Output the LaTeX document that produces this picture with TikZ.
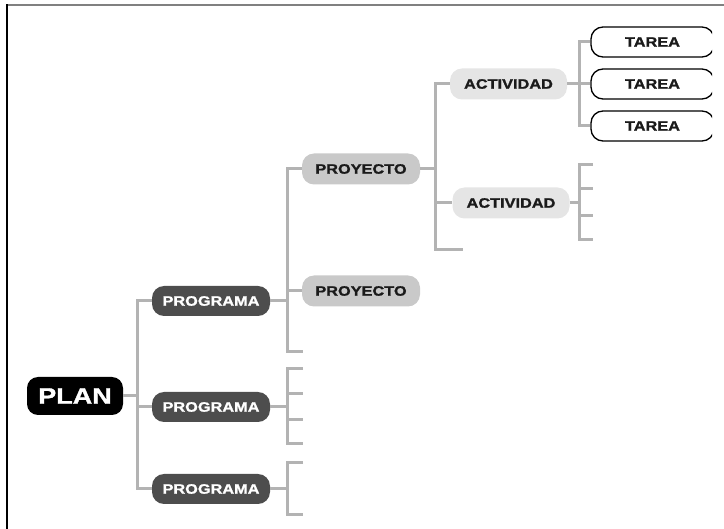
\documentclass[tikz,border=0pt]{standalone}
\usepackage{fontspec}
\newfontfamily\boxfont[FakeStretch=1.2,FakeBold=1.2]{Liberation Sans}
\definecolor{conncol}{HTML}{B3B3B3}
\definecolor{progcol}{HTML}{4D4D4D}
\definecolor{proycol}{HTML}{C9C9C9}
\definecolor{actcol}{HTML}{E5E5E5}
\definecolor{framegray}{HTML}{808080}
\definecolor{textdark}{HTML}{1A1A1A}
\tikzset{
  base/.style={inner sep=0pt, rounded corners=12pt, font=\boxfont\bfseries\fontsize{13.6}{13.6}\selectfont, minimum height=30pt},
  planbox/.style={base, fill=black, text=white, rounded corners=11pt, minimum width=96pt, minimum height=38pt, font=\boxfont\bfseries\fontsize{22.5}{22.5}\selectfont},
  progbox/.style={base, fill=progcol, text=white, minimum width=118pt},
  proybox/.style={base, fill=proycol, text=textdark, minimum width=118pt, minimum height=31pt},
  actbox/.style={base, fill=actcol, text=textdark, minimum width=117pt, minimum height=31pt},
  tareabox/.style={base, fill=white, draw=black, line width=1.3pt, text=textdark, minimum width=123pt},
  conn/.style={draw=conncol, line width=3pt},
}
\begin{document}
\begin{tikzpicture}[x=1pt,y=-1pt]
\useasboundingbox (0,0) rectangle (724,529);
% frame
\draw[framegray, line width=2pt] (7,5.5) -- (724,5.5);
\draw[black, line width=1.5pt] (7,4.5) -- (7,529);

% nodes
\node[planbox] (plan) at (75,396) {PLAN};
\node[progbox] (prog1) at (211,301) {PROGRAMA};
\node[progbox] (prog2) at (211,407) {PROGRAMA};
\node[progbox] (prog3) at (211,489) {PROGRAMA};
\node[proybox] (proy1) at (361,169) {PROYECTO};
\node[proybox] (proy2) at (361,291) {PROYECTO};
\node[actbox] (act1) at (508.5,84) {ACTIVIDAD};
\node[actbox] (act2) at (511,203) {ACTIVIDAD};
\begin{scope}
\clip (0,0) rectangle (712,529);
\node[tareabox] (t1) at (652.5,42) {TAREA};
\node[tareabox] (t2) at (652.5,84) {TAREA};
\node[tareabox] (t3) at (652.5,126) {TAREA};
\end{scope}

% junction coordinates
\coordinate (j0) at (137,396);
\coordinate (j1) at (287,301);
\coordinate (e1) at (303,352);
\coordinate (j2) at (287,407);
\coordinate (s21) at (303,369);
\coordinate (s22) at (303,394);
\coordinate (s23) at (303,420);
\coordinate (s24) at (303,444);
\coordinate (j3) at (287,489);
\coordinate (s31) at (303,463);
\coordinate (s32) at (303,515);
\coordinate (j4) at (435,169);
\coordinate (e4) at (463,250);
\coordinate (j5) at (579,84);
\coordinate (j6) at (579,203);
\coordinate (s61) at (593,165);
\coordinate (s62) at (593,189);
\coordinate (s63) at (593,216);
\coordinate (s64) at (593,240);

% connectors
\draw[conn] (plan.east) -- (j0);
\draw[conn] (prog1.west) -| (j0) |- (prog3.west);
\draw[conn] (j0 |- prog2.west) -- (prog2.west);

\draw[conn] (prog1.east) -- (j1);
\draw[conn] (proy1.west) -| (j1) |- (e1);
\draw[conn] (j1 |- proy2.west) -- (proy2.west);

\draw[conn] (prog2.east) -- (j2);
\draw[conn] (s21) -| (j2) |- (s24);
\draw[conn] (j2 |- s22) -- (s22);
\draw[conn] (j2 |- s23) -- (s23);

\draw[conn] (prog3.east) -- (j3);
\draw[conn] (s31) -| (j3) |- (s32);

\draw[conn] (proy1.east) -- (j4);
\draw[conn] (act1.west) -| (j4) |- (e4);
\draw[conn] (j4 |- act2.west) -- (act2.west);

\draw[conn] (act1.east) -- (j5);
\draw[conn] (t1.west) -| (j5) |- (t3.west);
\draw[conn] (j5) -- (t2.west);

\draw[conn] (act2.east) -- (j6);
\draw[conn] (s61) -| (j6) |- (s64);
\draw[conn] (j6 |- s62) -- (s62);
\draw[conn] (j6 |- s63) -- (s63);
\end{tikzpicture}
\end{document}
